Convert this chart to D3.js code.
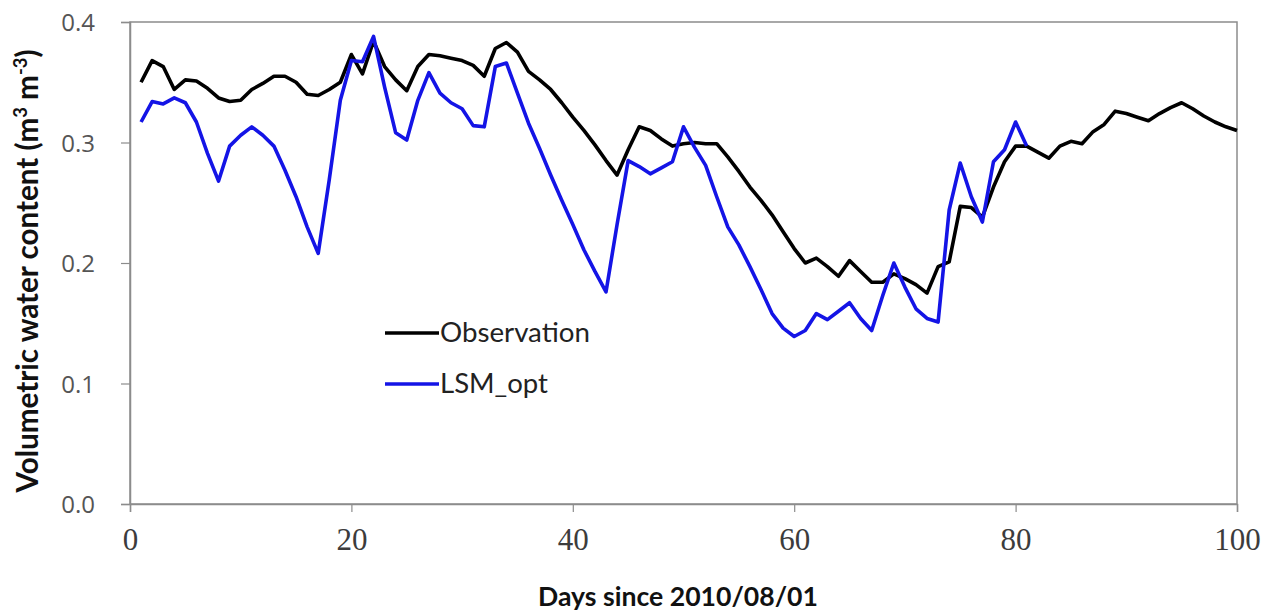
<!DOCTYPE html>
<html>
<head>
<meta charset="utf-8">
<script src="https://cdn.jsdelivr.net/npm/d3@7"></script>
<style>
  html, body { margin: 0; padding: 0; background: #fff; }
  svg { display: block; }
</style>
</head>
<body>
<svg id="chart" width="1272" height="616"></svg>
<script>
// Daily soil moisture, days since 2010/08/01
const obsDays = d3.range(1, 101);
const observation = [
  0.350, 0.368, 0.363, 0.344, 0.352, 0.351, 0.345, 0.337, 0.334, 0.335,
  0.344, 0.349, 0.355, 0.355, 0.350, 0.340, 0.339, 0.344, 0.350, 0.373,
  0.357, 0.384, 0.363, 0.352, 0.343, 0.363, 0.373, 0.372, 0.370, 0.368,
  0.364, 0.355, 0.378, 0.383, 0.375, 0.359, 0.352, 0.344, 0.333, 0.321,
  0.310, 0.298, 0.285, 0.273, 0.294, 0.313, 0.310, 0.303, 0.297, 0.299,
  0.300, 0.299, 0.299, 0.288, 0.276, 0.263, 0.252, 0.240, 0.226, 0.212,
  0.200, 0.204, 0.197, 0.189, 0.202, 0.193, 0.184, 0.184, 0.191, 0.187,
  0.182, 0.175, 0.197, 0.201, 0.247, 0.246, 0.238, 0.263, 0.284, 0.297,
  0.297, 0.292, 0.287, 0.297, 0.301, 0.299, 0.309, 0.315, 0.326, 0.324,
  0.321, 0.318, 0.324, 0.329, 0.333, 0.328, 0.322, 0.317, 0.313, 0.310
];
const modelDays = d3.range(1, 82);
const lsmOpt = [
  0.317, 0.334, 0.332, 0.337, 0.333, 0.317, 0.291, 0.268, 0.297, 0.306,
  0.313, 0.306, 0.297, 0.277, 0.255, 0.230, 0.208, 0.269, 0.335, 0.368,
  0.367, 0.388, 0.346, 0.308, 0.302, 0.335, 0.358, 0.341, 0.333, 0.328,
  0.314, 0.313, 0.363, 0.366, 0.341, 0.316, 0.295, 0.273, 0.252, 0.232,
  0.211, 0.193, 0.176, 0.232, 0.285, 0.280, 0.274, 0.279, 0.284, 0.313,
  0.296, 0.281, 0.255, 0.230, 0.215, 0.197, 0.178, 0.158, 0.146, 0.139,
  0.144, 0.158, 0.153, 0.160, 0.167, 0.154, 0.144, 0.173, 0.200, 0.180,
  0.162, 0.154, 0.151, 0.244, 0.283, 0.255, 0.234, 0.284, 0.294, 0.317,
  0.297
];
const xTicks = [0, 20, 40, 60, 80, 100];
const yTicks = [0.0, 0.1, 0.2, 0.3, 0.4];
const seriesNames = ["Observation", "LSM_opt"];
const seriesColors = ["#000000", "#1414e6"];

const svg = d3.select("#chart");
const plot = { left: 130, right: 1237, top: 22, bottom: 504 };

const x = d3.scaleLinear().domain([0, 100]).range([plot.left, plot.right]);
const y = d3.scaleLinear().domain([0, 0.4]).range([plot.bottom, plot.top]);

const frameColor = "#8c8c8c";
const sansFont = "Lato, 'Open Sans', sans-serif";

// scale a text's font size so it spans the given width
function fitWidth(sel, width) {
  const size = parseFloat(sel.style("font-size"));
  const len = sel.node().getComputedTextLength();
  sel.style("font-size", (size * width / len).toFixed(2) + "px");
  sel.selectAll("tspan.sup").style("font-size", (size * width / len * 0.62).toFixed(2) + "px");
}

// plot frame
svg.append("rect")
  .attr("x", plot.left).attr("y", plot.top)
  .attr("width", plot.right - plot.left).attr("height", plot.bottom - plot.top)
  .attr("fill", "none").attr("stroke", frameColor).attr("stroke-width", 1.5);

// y axis
const yAxis = svg.append("g")
  .attr("transform", `translate(${plot.left},0)`)
  .call(d3.axisLeft(y).tickValues(yTicks).tickFormat(d3.format(".1f")).tickSize(9).tickPadding(26));
yAxis.select(".domain").attr("stroke", frameColor).attr("stroke-width", 1.5);
yAxis.selectAll(".tick line").attr("stroke", frameColor).attr("stroke-width", 1.2);
yAxis.selectAll(".tick text")
  .attr("fill", "#555")
  .attr("dy", "0.36em")
  .style("font-family", "'Open Sans', Lato, sans-serif")
  .style("font-size", "24px");

// x axis
const xAxis = svg.append("g")
  .attr("transform", `translate(0,${plot.bottom})`)
  .call(d3.axisBottom(x).tickValues(xTicks).tickSize(8));
xAxis.select(".domain").attr("stroke", frameColor).attr("stroke-width", 1.5);
xAxis.selectAll(".tick line").attr("stroke", frameColor).attr("stroke-width", 1.2);
xAxis.selectAll(".tick text")
  .attr("y", 46).attr("dy", null)
  .attr("fill", "#3c3c3c")
  .style("font-family", "'Liberation Serif', 'DejaVu Serif', serif")
  .style("font-size", "31px");

// axis titles
const xTitle = svg.append("text")
  .attr("x", 678).attr("y", 606)
  .attr("text-anchor", "middle")
  .style("font-family", sansFont)
  .style("font-weight", "bold").style("font-size", "26px")
  .attr("fill", "#111")
  .text("Days since 2010/08/01");
fitWidth(xTitle, 280);

const yTitle = svg.append("text")
  .attr("transform", `translate(38,271) rotate(-90)`)
  .attr("text-anchor", "middle")
  .style("font-family", sansFont)
  .style("font-weight", "bold").style("font-size", "26px")
  .attr("fill", "#111");
yTitle.append("tspan").text("Volumetric water content (m");
yTitle.append("tspan").attr("class", "sup").attr("baseline-shift", "super").style("font-size", "16px").text("3");
yTitle.append("tspan").text(" m");
yTitle.append("tspan").attr("class", "sup").attr("baseline-shift", "super").style("font-size", "16px").text("-3");
yTitle.append("tspan").text(")");
fitWidth(yTitle, 443);

// series lines
const line = d3.line().x(d => x(d[0])).y(d => y(d[1]));
const series = [
  d3.zip(obsDays, observation),
  d3.zip(modelDays, lsmOpt)
];
series.forEach((pts, i) => {
  svg.append("path")
    .datum(pts)
    .attr("fill", "none")
    .attr("stroke", seriesColors[i])
    .attr("stroke-width", 3.6)
    .attr("stroke-linejoin", "round")
    .attr("d", line);
});

// legend
const legend = svg.append("g").attr("transform", "translate(385,333)");
const legendWidths = [150, 108];
seriesNames.forEach((name, i) => {
  const g = legend.append("g").attr("transform", `translate(0,${i * 51})`);
  g.append("line").attr("x1", 0).attr("x2", 54).attr("y1", 0).attr("y2", 0)
    .attr("stroke", seriesColors[i]).attr("stroke-width", 3.6);
  const t = g.append("text").attr("x", 55).attr("y", 9)
    .style("font-family", sansFont)
    .style("font-size", "26px").attr("fill", "#222")
    .text(name);
  fitWidth(t, legendWidths[i]);
});
</script>
</body>
</html>
